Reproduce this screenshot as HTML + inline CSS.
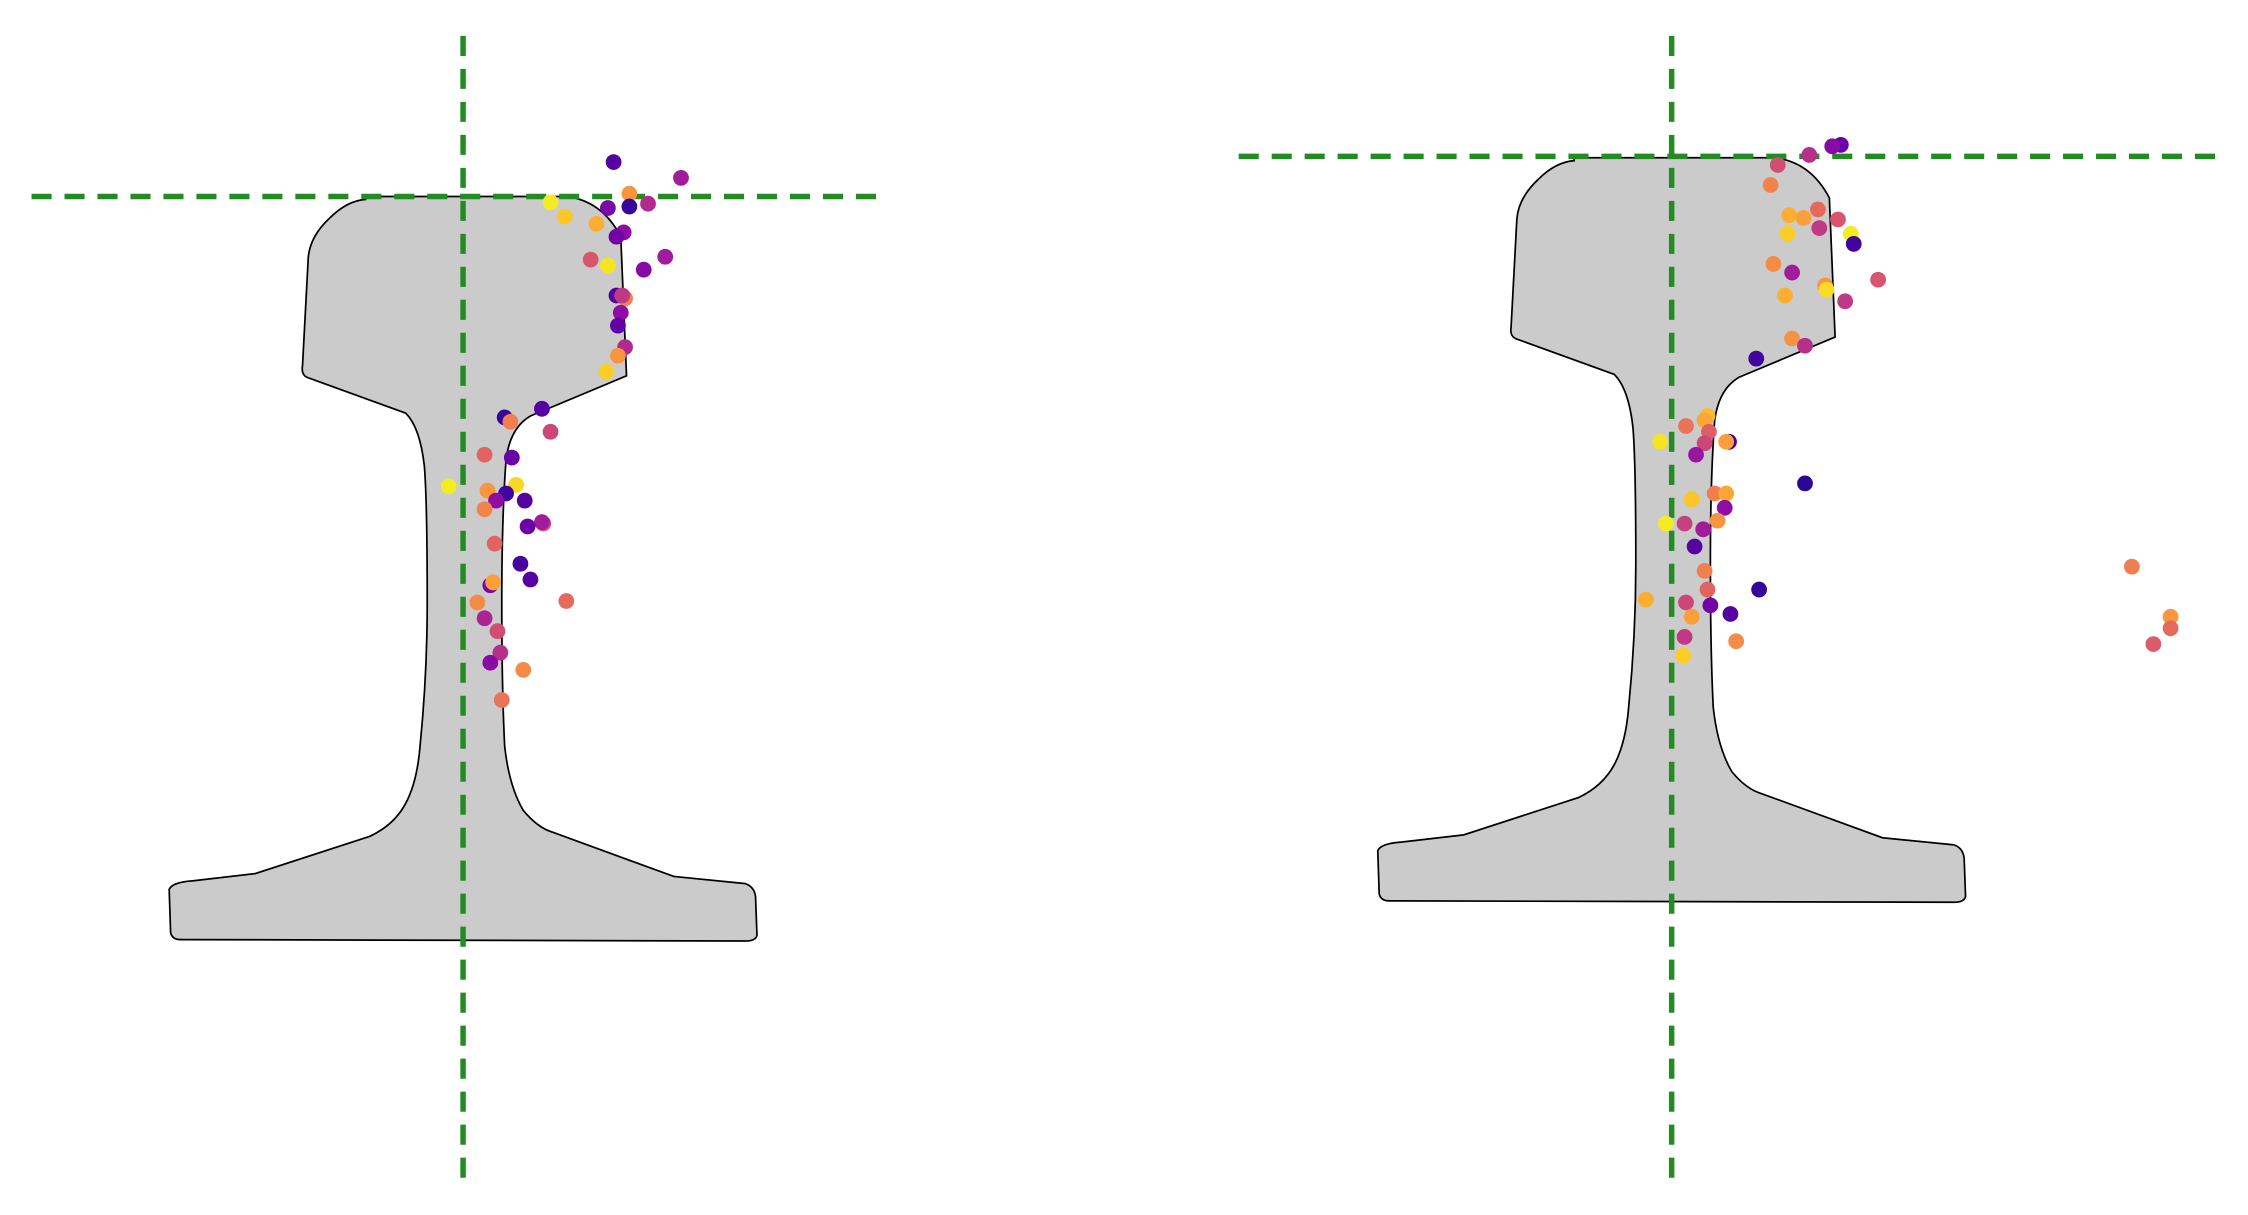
<!DOCTYPE html>
<html><head><meta charset="utf-8"><style>
html,body{margin:0;padding:0;background:#fff;}
svg{display:block;}
</style></head><body>
<svg id="chart" width="2248" height="1215" viewBox="0 0 1568 847" preserveAspectRatio="none" xmlns="http://www.w3.org/2000/svg">
<defs>
<path id="rail" d="M255,137 L395,137 Q420,140 433,165 L437,262 L370,290 Q356,298 353,320 Q350,360 350,420 Q350,480 352,520 Q355,548 365,565 Q375,577 385,580 L470,611 L520,616 Q526,618 527,625 L528,652 Q527,656 520,656 L126,655 Q120,655 119,650 L118,620 Q120,615 135,614 L178,609 L258,583 Q275,575 283,560 Q291,545 293,520 Q298,470 298,420 Q298,350 296,325 Q293,298 283,288 L214,263 Q210,261 211,255 L215,180 Q216,165 230,152 Q242,140 255,139 Z"/>
</defs>
<g id="left-panel">
<use href="#rail" fill="#cbcbcb" stroke="#000" stroke-width="1.2"/>
<line x1="323" y1="25" x2="323" y2="826" stroke="#228b22" stroke-width="3.8" stroke-dasharray="14,9"/>
<line x1="22" y1="137" x2="614" y2="137" stroke="#228b22" stroke-width="3.8" stroke-dasharray="14,9"/>
<g id="left-dots"></g>
</g>
<g id="right-panel">
<use href="#rail" transform="translate(843,-27)" fill="#cbcbcb" stroke="#000" stroke-width="1.2"/>
<line x1="1166" y1="25" x2="1166" y2="826" stroke="#228b22" stroke-width="3.8" stroke-dasharray="14,9"/>
<line x1="864" y1="109" x2="1548" y2="109" stroke="#228b22" stroke-width="3.8" stroke-dasharray="14,9"/>
<g id="right-dots"></g>
</g>
</svg>
<script>
// Left panel: offsets from rail centre (x) and rail top (y), display units
const leftX = [105,152,116,101,116,129,61,71,93,112,107,89,101,126,141,107,113,111,110,108,113,108,100,29,33,55,61,15,34,-10,17,37,30,23,43,15,56,55,45,22,40,47,19,21,10,72,15,24,26,19,42,27];
const leftY = [-24,-13,-2,8,7,5,4,14,19,25,28,44,48,51,42,69,71,69,81,90,105,111,122,154,157,148,164,180,182,202,205,201,207,212,212,218,228,227,230,242,256,267,271,269,283,282,294,303,318,325,330,351];
const leftC = [0.15,0.35,0.75,0.25,0.08,0.4,0.97,0.88,0.82,0.3,0.22,0.55,0.95,0.28,0.35,0.15,0.7,0.45,0.3,0.18,0.4,0.75,0.9,0.08,0.68,0.15,0.5,0.6,0.2,0.97,0.75,0.92,0.1,0.3,0.15,0.7,0.55,0.35,0.2,0.6,0.12,0.15,0.25,0.78,0.72,0.62,0.38,0.52,0.42,0.28,0.72,0.65];
// Right panel
const rightX = [118,112,96,74,69,82,92,102,116,81,103,125,127,71,84,107,108,144,121,79,84,93,59,25,23,10,26,40,38,-8,23,17,93,14,30,38,37,-4,9,22,32,16,23,25,61,-18,10,27,41,14,45,9,8,321,348,348,336];
const rightY = [-9,-8,-2,5,19,40,42,36,43,53,49,53,60,74,80,89,92,85,100,96,126,131,140,180,183,187,191,198,198,198,199,207,227,238,234,234,244,255,255,259,253,271,288,301,301,308,310,312,318,320,337,334,347,285,320,328,339];
const rightC = [0.2,0.28,0.42,0.52,0.7,0.82,0.78,0.62,0.55,0.9,0.45,0.97,0.1,0.72,0.35,0.75,0.93,0.55,0.45,0.82,0.74,0.42,0.1,0.85,0.8,0.65,0.58,0.1,0.78,0.95,0.5,0.33,0.06,0.88,0.68,0.8,0.3,0.97,0.48,0.35,0.75,0.15,0.68,0.6,0.08,0.82,0.5,0.22,0.15,0.78,0.72,0.45,0.9,0.68,0.76,0.62,0.57];

const plasma = ["#0d0887","#41049d","#6a00a8","#8f0da4","#b12a90","#cc4778","#e16462","#f2844b","#fca636","#fcce25","#f0f921"];
function hex(h){return [1,3,5].map(i=>parseInt(h.substr(i,2),16));}
function cmap(v){
  v=Math.max(0,Math.min(1,v));const p=v*10,i=Math.min(9,Math.floor(p)),t=p-i;
  const a=hex(plasma[i]),b=hex(plasma[i+1]);
  return "rgb("+a.map((c,k)=>Math.round(c+(b[k]-c)*t)).join(",")+")";
}
function makeScale(ox,oy){return {x:v=>ox+v, y:v=>oy+v};}
const NS="http://www.w3.org/2000/svg";
function draw(gid,xs,ys,cs,sc){
  const g=document.getElementById(gid);
  xs.forEach((x,i)=>{
    const c=document.createElementNS(NS,"circle");
    c.setAttribute("cx",sc.x(x));c.setAttribute("cy",sc.y(ys[i]));
    c.setAttribute("r",5.5);c.setAttribute("fill",cmap(cs[i]));
    
    
    g.appendChild(c);
  });
}
draw("left-dots",leftX,leftY,leftC,makeScale(323,137));
draw("right-dots",rightX,rightY,rightC,makeScale(1166,110));
</script>
</body></html>
